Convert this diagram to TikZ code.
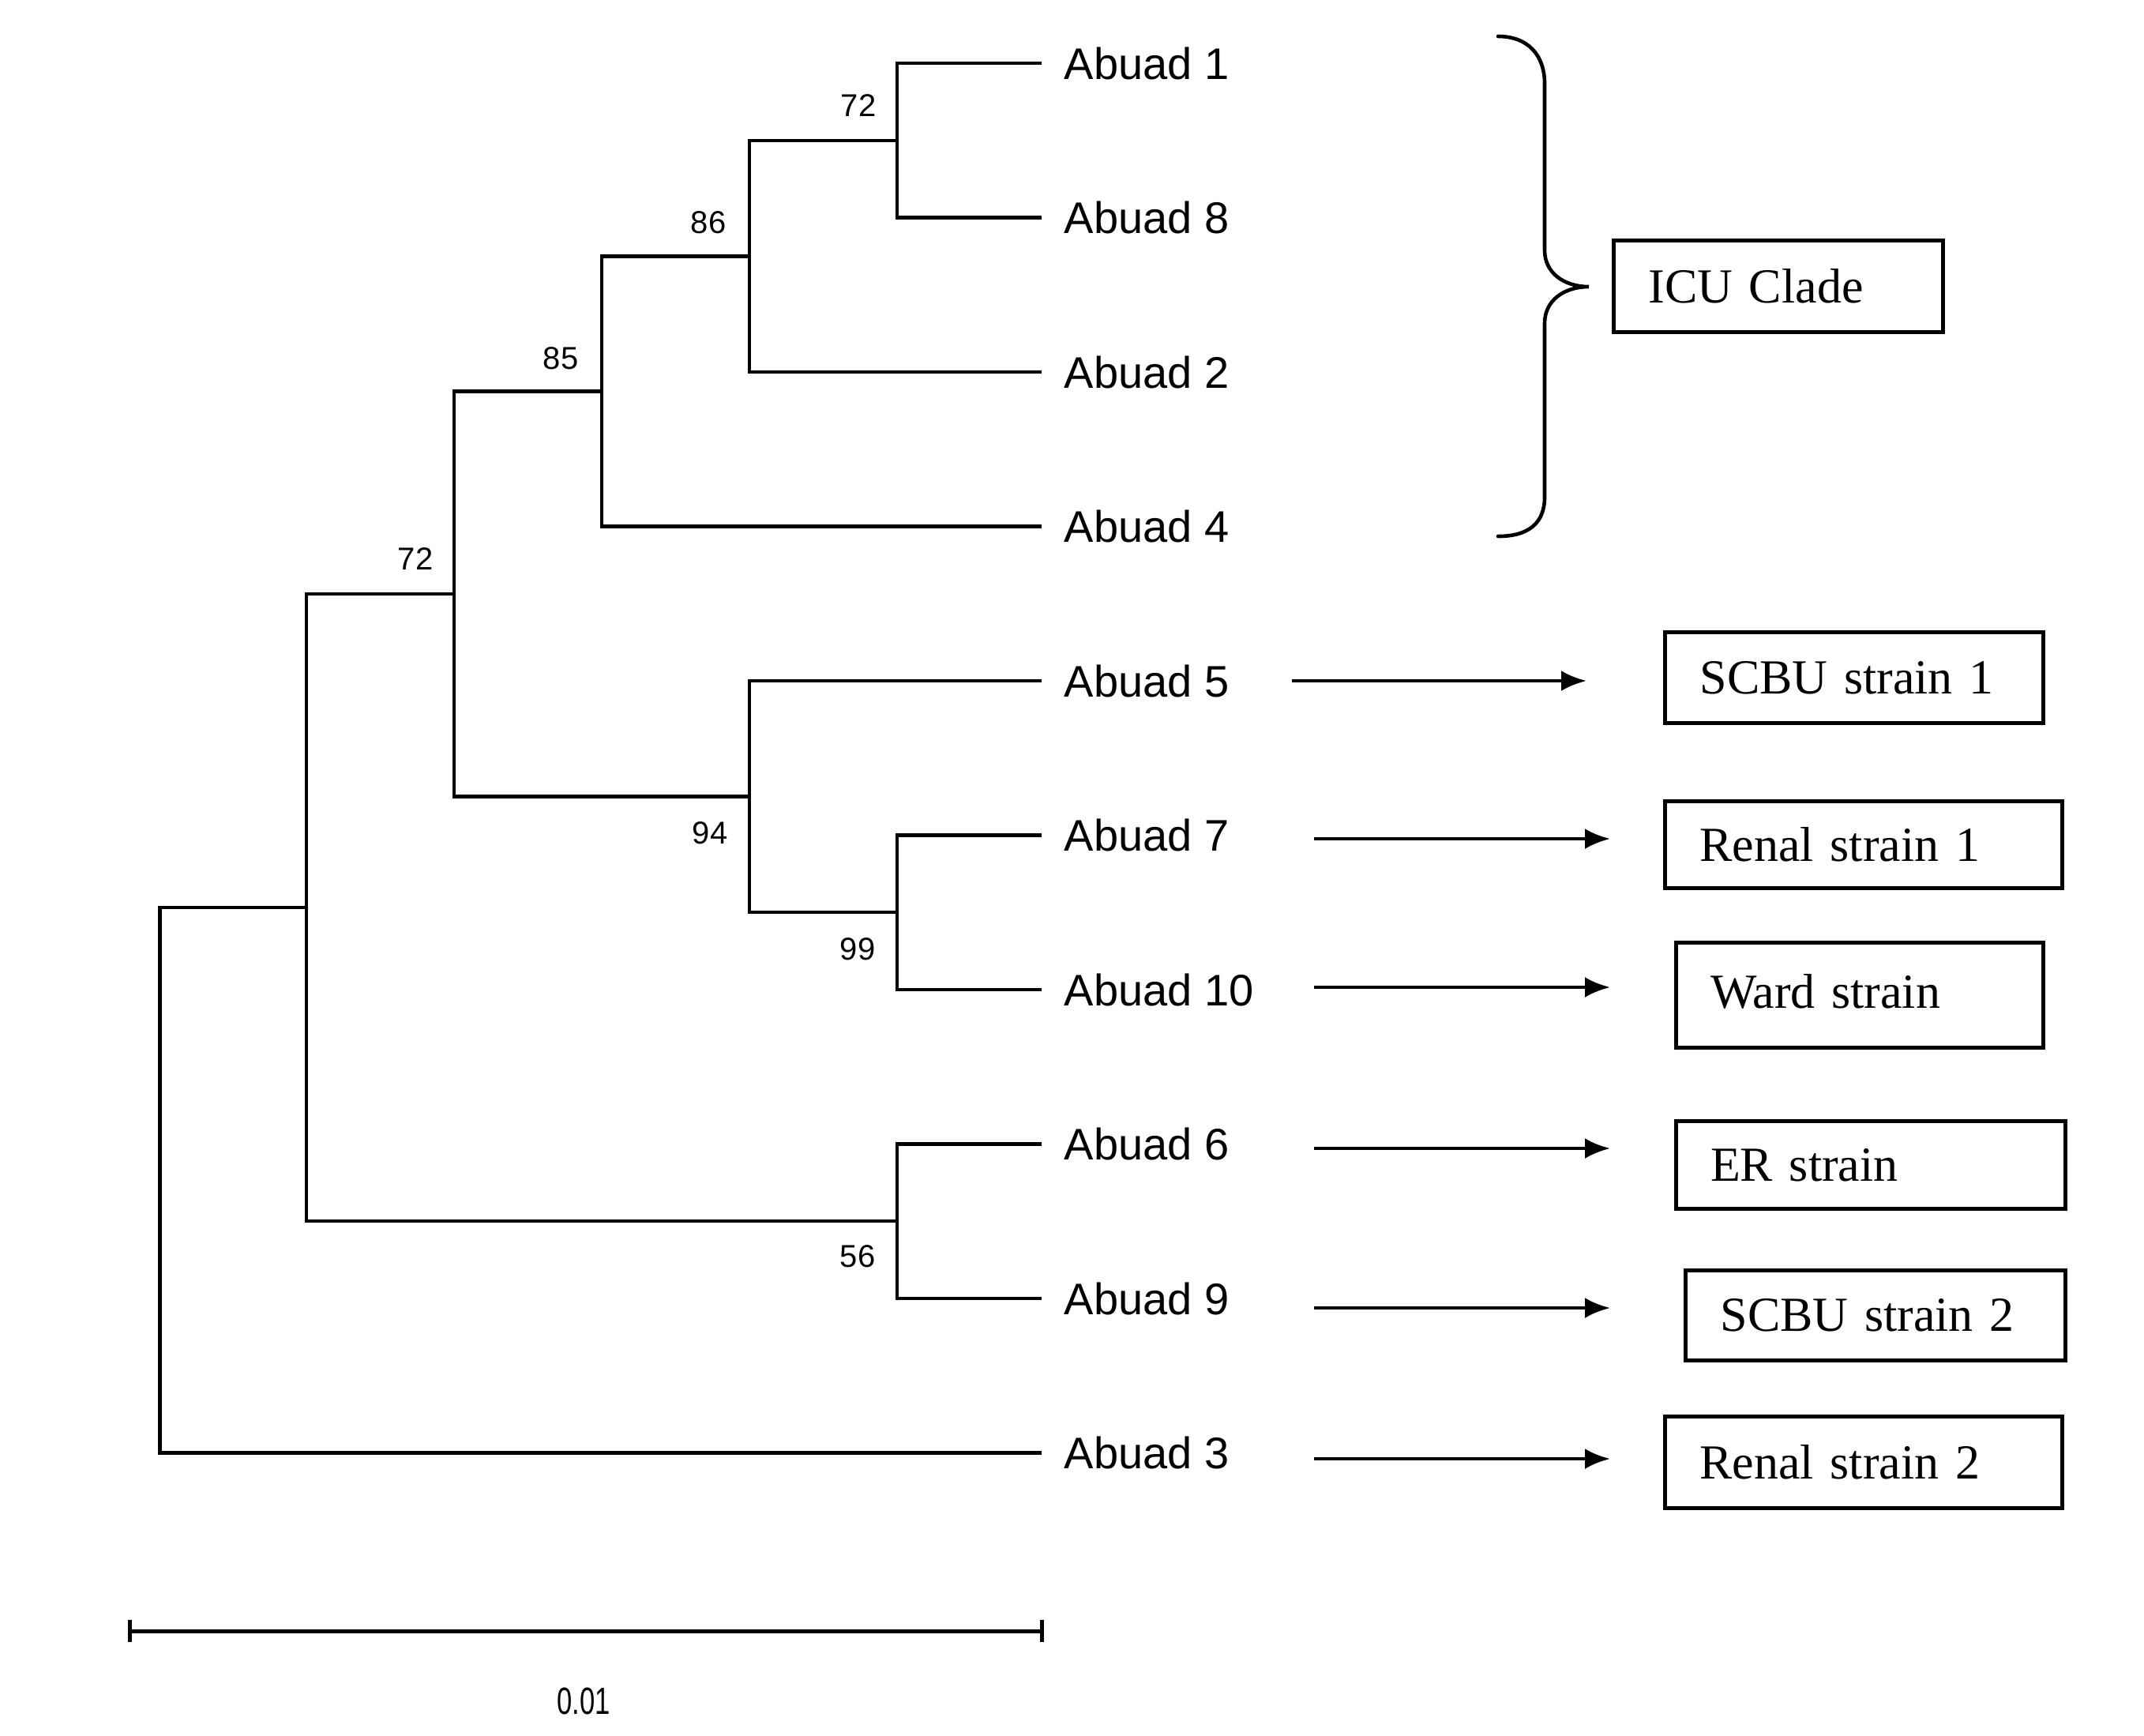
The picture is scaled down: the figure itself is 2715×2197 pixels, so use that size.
\documentclass[tikz,border=0pt]{standalone}
\usepackage{fontspec}
\usepackage{graphicx}
\setmainfont{Liberation Serif}
\newfontfamily\arialf{Liberation Sans}
\usetikzlibrary{arrows.meta}
\begin{document}
\begin{tikzpicture}[x=0.25pt,y=-0.25pt,
  branch/.style={line width=1.1pt, line join=miter, line cap=butt},
  leaf/.style={anchor=west, inner sep=0pt, font=\arialf\fontsize{14}{16}\selectfont},
  boot/.style={inner sep=0pt, font=\arialf\fontsize{10}{12}\selectfont},
  box/.style={draw, line width=1.25pt, anchor=north west, inner xsep=11pt, inner ysep=0pt, align=left, font=\fontsize{15.5}{18}\selectfont},
  arr/.style={line width=1.2pt, -{Latex[length=8pt,width=6.5pt]}},
  brace/.style={line width=1.15pt, line cap=round}]
\useasboundingbox (0,0) rectangle (2715,2197);
\fill[white] (0,0) rectangle (2715,2197);

% leaf tips
\coordinate (t1) at (1319.4,80);
\coordinate (t8) at (1319.4,275.5);
\coordinate (t2) at (1319.4,471);
\coordinate (t4) at (1319.4,666.5);
\coordinate (t5) at (1319.4,862);
\coordinate (t7) at (1319.4,1057.5);
\coordinate (t10) at (1319.4,1253);
\coordinate (t6) at (1319.4,1448.5);
\coordinate (t9) at (1319.4,1644);
\coordinate (t3) at (1319.4,1839.5);

% internal nodes
\coordinate (n72a) at (1135.9,177.75);
\coordinate (n86) at (948.9,324.4);
\coordinate (n85) at (761.9,495.4);
\coordinate (n72b) at (574.9,752);
\coordinate (n94) at (948.9,1008.6);
\coordinate (n99) at (1135.9,1155.25);
\coordinate (n56) at (1135.9,1546.25);
\coordinate (n2) at (387.9,1149.1);
\coordinate (root) at (202.6,1494.3);

% branches
\draw[branch] (t1) -| (n72a) |- (t8);
\draw[branch] (n72a) -| (n86) |- (t2);
\draw[branch] (n86) -| (n85) |- (t4);
\draw[branch] (n85) -| (n72b) |- (n94);
\draw[branch] (t5) -| (n94) |- (n99);
\draw[branch] (t7) -| (n99) |- (t10);
\draw[branch] (n72b) -| (n2) |- (n56);
\draw[branch] (t6) -| (n56) |- (t9);
\draw[branch] (n2) -| (root) |- (t3);

% leaf labels
\node[leaf] (l1) at (1347,80) {Abuad 1};
\node[leaf] (l8) at (1347,275.5) {Abuad 8};
\node[leaf] (l2) at (1347,471) {Abuad 2};
\node[leaf] (l4) at (1347,666.5) {Abuad 4};
\node[leaf] (l5) at (1347,862) {Abuad 5};
\node[leaf] (l7) at (1347,1057.5) {Abuad 7};
\node[leaf] (l10) at (1347,1253) {Abuad 10};
\node[leaf] (l6) at (1347,1448.5) {Abuad 6};
\node[leaf] (l9) at (1347,1644) {Abuad 9};
\node[leaf] (l3) at (1347,1839.5) {Abuad 3};

% bootstrap values
\node[boot] (b72a) at (1087,134) {72};
\node[boot] (b86) at (897,282) {86};
\node[boot] (b85) at (710,454) {85};
\node[boot] (b72b) at (526,708) {72};
\node[boot] (b94) at (899,1055) {94};
\node[boot] (b99) at (1086,1202) {99};
\node[boot] (b56) at (1086,1591) {56};

% brace for ICU clade
\coordinate (brT) at (1897,46);
\coordinate (brB) at (1897,679);
\coordinate (brTip) at (2012,363);
\draw[brace] (brT) .. controls (1935,46) and (1956,70) .. (1956,106) -- (1956,317)
  .. controls (1956,345) and (1980,363) .. (brTip)
  .. controls (1980,363) and (1956,381) .. (1956,409) -- (1956,629)
  .. controls (1956,663) and (1935,679) .. (brB);

% boxes
\node[box, text width=82.25pt, minimum height=29pt] (icu) at (2041,302) {ICU Clade};
\node[box, text width=97.75pt, minimum height=28.75pt] (s1) at (2106,798) {SCBU strain 1};
\node[box, text width=103.75pt, minimum height=27.5pt] (r1) at (2106,1012) {Renal strain 1};
\node[box, text width=94.375pt, minimum height=33.375pt] (ws) at (2119.5,1190.5) {\raisebox{2.5pt}{Ward strain}};
\node[box, text width=101.375pt, minimum height=27.75pt] (er) at (2119.5,1417) {ER strain};
\node[box, text width=98.25pt, minimum height=28.5pt] (s2) at (2132,1606) {SCBU strain 2};
\node[box, text width=103.75pt, minimum height=29pt] (r2) at (2106,1791) {Renal strain 2};

% arrows
\coordinate (a5s) at (1636,862);  \coordinate (a5e) at (2009,862);
\coordinate (a7s) at (1664,1062); \coordinate (a7e) at (2039,1062);
\coordinate (a10s) at (1664,1250); \coordinate (a10e) at (2039,1250);
\coordinate (a6s) at (1664,1454); \coordinate (a6e) at (2039,1454);
\coordinate (a9s) at (1664,1656); \coordinate (a9e) at (2039,1656);
\coordinate (a3s) at (1664,1847); \coordinate (a3e) at (2039,1847);
\draw[arr] (a5s) -- (a5e);
\draw[arr] (a7s) -- (a7e);
\draw[arr] (a10s) -- (a10e);
\draw[arr] (a6s) -- (a6e);
\draw[arr] (a9s) -- (a9e);
\draw[arr] (a3s) -- (a3e);

% scale bar
\coordinate (sbL) at (164.5,2065);
\coordinate (sbR) at (1319.4,2065);
\draw[line width=1.25pt] (sbL) -- (sbR);
\draw[line width=1.1pt] (164.5,2051) -- (164.5,2079);
\draw[line width=1.1pt] (1319.4,2051) -- (1319.4,2079);
\node[inner sep=0pt, font=\arialf\fontsize{12}{14}\selectfont] (sbt) at (739,2154) {\scalebox{0.72}[1]{0.01}};
\end{tikzpicture}
\end{document}
